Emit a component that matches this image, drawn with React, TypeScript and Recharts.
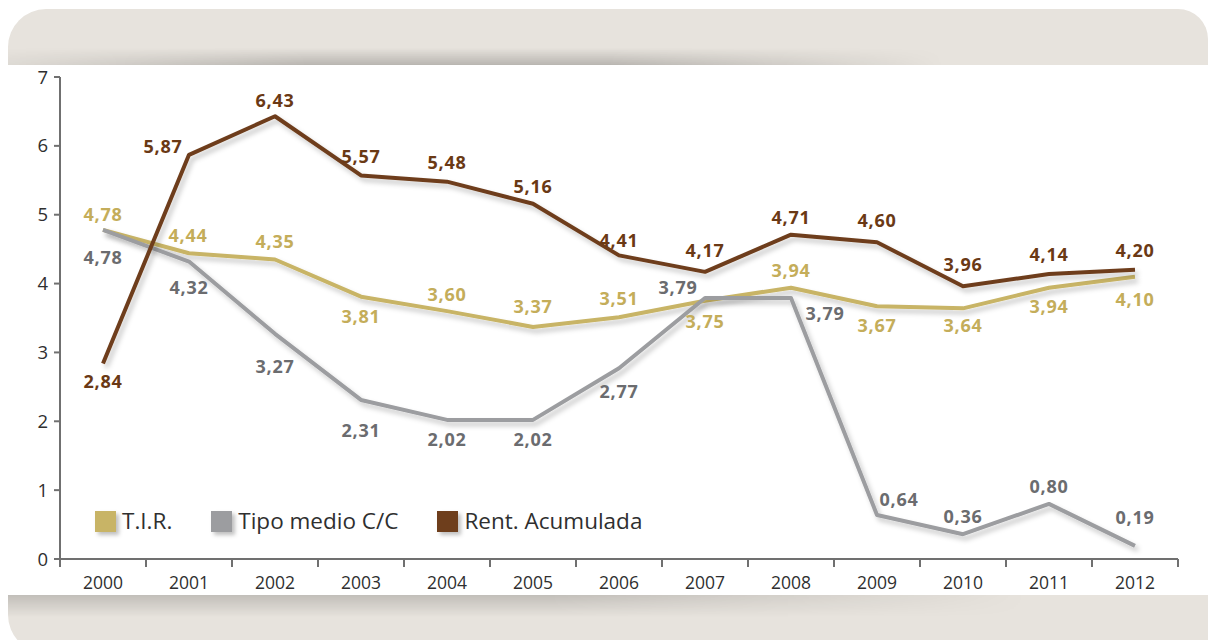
import React from 'react'
import { LineChart, Line, XAxis, YAxis, Legend, LabelList } from 'recharts'

const years = ['2000', '2001', '2002', '2003', '2004', '2005', '2006', '2007', '2008', '2009', '2010', '2011', '2012']
const tir = [4.78, 4.44, 4.35, 3.81, 3.6, 3.37, 3.51, 3.75, 3.94, 3.67, 3.64, 3.94, 4.1]
const tipoMedio = [4.78, 4.32, 3.27, 2.31, 2.02, 2.02, 2.77, 3.79, 3.79, 0.64, 0.36, 0.8, 0.19]
const rentAcumulada = [2.84, 5.87, 6.43, 5.57, 5.48, 5.16, 4.41, 4.17, 4.71, 4.6, 3.96, 4.14, 4.2]
const yTicks = [0, 1, 2, 3, 4, 5, 6, 7]
const seriesNames = ['T.I.R.', 'Tipo medio C/C', 'Rent. Acumulada']

// label offsets [dx, dy] from each point, as placed in the original
const tirLabelPos = [[0, -15], [-1, -17], [0, -17], [0, 20], [0, -16], [0, -20], [0, -18], [0, 21], [0, -17], [0, 20], [0, 18], [0, 19], [0, 23]]
const tipoLabelPos = [[0, 28], [0, 26], [0, 33], [0, 31], [0, 20], [0, 20], [0, 24], [-27, -10], [34, 16], [22, -15], [0, -17], [0, -17], [0, -28]]
const rentLabelPos = [[0, 19], [-26, -8], [0, -15], [0, -18], [0, -19], [0, -17], [0, -14], [0, -21], [0, -17], [0, -21], [0, -21], [0, -19], [0, -19]]

const data = years.map((year, i) => ({
  year,
  tir: tir[i],
  tipo: tipoMedio[i],
  rent: rentAcumulada[i],
}))

const GOLD = '#c8b466'
const GOLD_TEXT = '#c4ad5a'
const GRAY = '#9c9da0'
const GRAY_TEXT = '#6b6c6f'
const BROWN = '#6e3e1c'
const BROWN_TEXT = '#6a3915'

const FONT = '"Open Sans", "Noto Sans", sans-serif'
const BAND = 86

const makeLabel = (pos: number[][], color: string) => (props: any) => {
  const { x, y, value, index } = props
  const [dx, dy] = pos[index] || [0, -15]
  return (
    <text
      x={x + dx}
      y={y + dy}
      dy={6}
      textAnchor="middle"
      fill={color}
      fontFamily={FONT}
      fontWeight={700}
      fontSize={18}
      letterSpacing={0.8}
    >
      {Number(value).toFixed(2).replace('.', ',')}
    </text>
  )
}

const XTick = (props: any) => {
  const { x, y, payload, index } = props
  const last = index === years.length - 1
  return (
    <g>
      <line x1={x - BAND / 2} x2={x - BAND / 2} y1={y} y2={y + 8} stroke="#707070" strokeWidth={2} />
      {last && <line x1={x + BAND / 2} x2={x + BAND / 2} y1={y} y2={y + 8} stroke="#707070" strokeWidth={2} />}
      <text x={x} y={y + 30} textAnchor="middle" fill="#2f2f2f" fontFamily={FONT} fontSize={17.5}>
        {payload.value}
      </text>
    </g>
  )
}

const LegendBox = (props: any) => {
  const items = [...(props.payload || [])].sort(
    (a: any, b: any) => seriesNames.indexOf(a.value) - seriesNames.indexOf(b.value)
  )
  return (
    <div style={{ display: 'flex', alignItems: 'center', fontFamily: FONT }}>
      {items.map((it: any) => (
        <div key={it.value} style={{ display: 'flex', alignItems: 'center', marginRight: 39 }}>
          <span
            style={{
              width: 21,
              height: 21,
              background: it.color,
              boxShadow: '3px 3px 4px rgba(0,0,0,0.25)',
              marginRight: 6,
            }}
          />
          <span style={{ fontSize: 22.5, color: '#2f2f2f', lineHeight: '22px' }}>{it.value}</span>
        </div>
      ))}
    </div>
  )
}

export default function App() {
  return (
    <div style={{ position: 'absolute', left: 0, top: 0, width: 1208, height: 640, background: '#fff', overflow: 'hidden' }}>
      <svg width={0} height={0} style={{ position: 'absolute' }}>
        <defs>
          <filter id="lineShadow" x="-5%" y="-20%" width="110%" height="140%">
            <feDropShadow dx={3} dy={4} stdDeviation={2.5} floodColor="#000" floodOpacity={0.22} />
          </filter>
        </defs>
      </svg>
      <div
        style={{
          position: 'absolute',
          left: 8,
          top: 9,
          width: 1200,
          height: 644,
          background: '#e7e3dd',
          borderRadius: '38px 30px 0 38px',
        }}
      />
      <div
        style={{
          position: 'absolute',
          left: 8,
          top: 48,
          width: 1200,
          height: 17,
          background: 'linear-gradient(to bottom, rgba(0,0,0,0) 0%, rgba(0,0,0,0.2) 100%)',
          WebkitMaskImage: 'linear-gradient(to right, rgba(0,0,0,0.2) 0%, #000 25%, #000 50%, rgba(0,0,0,0) 78%)',
        }}
      />
      <div style={{ position: 'absolute', left: 0, top: 65, width: 1208, height: 530, background: '#fff' }} />
      <div
        style={{
          position: 'absolute',
          left: 8,
          top: 595,
          width: 1200,
          height: 22,
          background: 'linear-gradient(to bottom, rgba(0,0,0,0.16) 0%, rgba(0,0,0,0) 100%)',
          WebkitMaskImage: 'linear-gradient(to right, #000 0%, #000 45%, rgba(0,0,0,0) 85%)',
        }}
      />
      <div style={{ position: 'absolute', left: 0, top: 0 }}>
        <LineChart width={1208} height={640} data={data} margin={{ top: 77, right: 30, bottom: 51, left: 20 }}>
          <XAxis
            dataKey="year"
            padding={{ left: BAND / 2, right: BAND / 2 }}
            tick={<XTick />}
            tickLine={false}
            tickSize={0}
            tickMargin={0}
            axisLine={{ stroke: '#707070', strokeWidth: 2 }}
            height={30}
            interval={0}
          />
          <YAxis
            domain={[0, 7]}
            ticks={yTicks}
            width={40}
            tickSize={6}
            tickMargin={6}
            axisLine={{ stroke: '#707070', strokeWidth: 2 }}
            tickLine={{ stroke: '#707070', strokeWidth: 2 }}
            tick={{ fill: '#2f2f2f', fontSize: 18.5, fontFamily: FONT }}
          />
          <Legend
            verticalAlign="middle"
            layout="horizontal"
            content={<LegendBox />}
            wrapperStyle={{ position: 'absolute', top: 510, left: 95, width: 'auto' }}
          />
          <Line
            dataKey="tir"
            name="T.I.R."
            stroke={GOLD}
            strokeWidth={4}
            dot={false}
            activeDot={false}
            isAnimationActive={false}
            strokeLinejoin="round"
            style={{ filter: 'url(#lineShadow)' }}
          >
            <LabelList dataKey="tir" content={makeLabel(tirLabelPos, GOLD_TEXT)} />
          </Line>
          <Line
            dataKey="tipo"
            name="Tipo medio C/C"
            stroke={GRAY}
            strokeWidth={4}
            dot={false}
            activeDot={false}
            isAnimationActive={false}
            strokeLinejoin="round"
            style={{ filter: 'url(#lineShadow)' }}
          >
            <LabelList dataKey="tipo" content={makeLabel(tipoLabelPos, GRAY_TEXT)} />
          </Line>
          <Line
            dataKey="rent"
            name="Rent. Acumulada"
            stroke={BROWN}
            strokeWidth={4}
            dot={false}
            activeDot={false}
            isAnimationActive={false}
            strokeLinejoin="round"
            style={{ filter: 'url(#lineShadow)' }}
          >
            <LabelList dataKey="rent" content={makeLabel(rentLabelPos, BROWN_TEXT)} />
          </Line>
        </LineChart>
      </div>
    </div>
  )
}
